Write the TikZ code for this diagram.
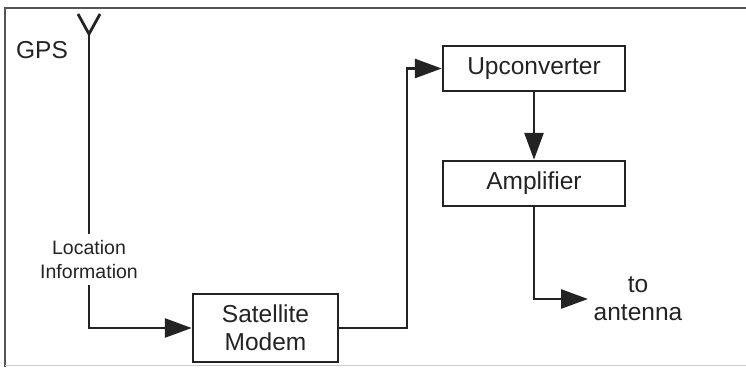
\documentclass[tikz,border=0pt]{standalone}
\usepackage{fontspec}
\setmainfont{Liberation Sans}
\usetikzlibrary{arrows.meta}
\definecolor{ink}{RGB}{35,35,35}
\definecolor{frame}{RGB}{85,85,85}
\tikzset{
  box/.style={draw=ink, line width=2.5pt, rectangle, inner sep=0pt,
    font=\fontsize{24.5}{28}\selectfont, text=ink, align=center},
  conn/.style={draw=ink, line width=2.8pt},
  arr/.style={conn, -{Triangle[length=27pt,width=19pt]}},
  lbl/.style={text=ink, align=center, inner sep=0pt},
}
\begin{document}
\begin{tikzpicture}[x=1pt,y=-1pt]
\useasboundingbox (0,0) rectangle (746,367);
% frame
\draw[frame, line width=2pt] (5,367) -- (5,8) -- (746,8);
\draw[black!20, line width=1pt] (5,365) -- (746,365);
% GPS
\node[lbl, font=\fontsize{24.5}{28}\selectfont] (gps) at (42,50) {GPS};
\coordinate (ant) at (89,34);
\coordinate (antl) at (78,14);
\coordinate (antr) at (100,14);
\draw[conn, line join=miter] (antl) -- (ant) -- (antr);
% blocks
\node[box, minimum width=145pt, minimum height=68pt] (sat) at (265.5,328) {Satellite\\Modem};
\node[box, minimum width=182pt, minimum height=45pt] (up) at (534,68.5) {Upconverter};
\node[box, minimum width=182pt, minimum height=45pt] (amp) at (534,183.5) {Amplifier};
% labels
\node[lbl, font=\fontsize{19.5}{24}\selectfont, inner ysep=6pt] (loc) at (89,259.5) {Location\\Information};
\node[lbl, font=\fontsize{24.5}{28}\selectfont] (to) at (638,299) {to\\antenna};
\coordinate (out) at (588,299);
\coordinate (bend) at (407,328);
% connectors
\draw[conn] (ant) -- (loc.north);
\draw[arr] (loc.south) |- (sat.west);
\draw[arr] (sat.east) -- (bend) |- (up.west);
\draw[arr] (up.south) -- (amp.north);
\draw[arr] (amp.south) |- (out);
\end{tikzpicture}
\end{document}
